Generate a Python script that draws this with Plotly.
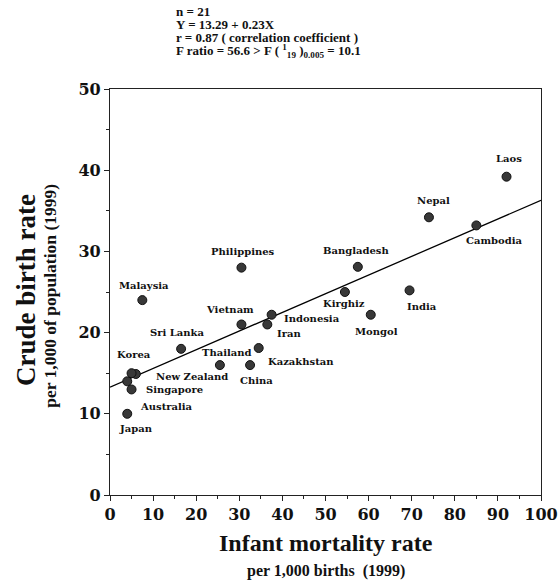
import plotly.graph_objects as go

# Infant mortality (per 1,000 births) vs crude birth rate (per 1,000 pop.), 1999
countries = ["Laos", "Nepal", "Cambodia", "Philippines", "Bangladesh", "Kirghiz",
             "India", "Mongol", "Vietnam", "Indonesia", "Iran", "Kazakhstan",
             "China", "Thailand", "New Zealand", "Sri Lanka", "Malaysia", "Korea",
             "Singapore", "Australia", "Japan"]
infant_mortality = [92, 74, 85, 30.5, 57.5, 54.5,
                    69.5, 60.5, 30.5, 37.5, 36.5, 34.5,
                    32.5, 25.5, 6, 16.5, 7.5, 5,
                    4, 5, 4]
birth_rate = [39.2, 34.2, 33.2, 28, 28.1, 25,
              25.2, 22.2, 21, 22.2, 21, 18.1,
              16, 16, 14.9, 18, 24, 15,
              14, 13, 10]

# regression line Y = a + bX
intercept = 13.29
slope = 0.23

x_ticks = list(range(0, 101, 10))
y_ticks = list(range(0, 51, 10))

# pixel offsets (dx right, dy down) of each label from its point
label_offsets = [(2, -18), (5, -17), (18, 15), (2, -16), (-2, -16), (-1, 11),
                 (12, 16), (6, 17), (-11, -15), (40, 4), (22, 9), (42, 13),
                 (6, 15), (7, -13), (56, 2), (-4, -16), (2, -15), (2, -19),
                 (47, 8), (35, 17), (9, 15)]

SERIF = "Liberation Serif"
WIDE_SERIF = "DejaVu Serif"
INK = "#111111"

fig = go.Figure()

line_x = [0, 100]
line_y = [intercept + slope * v for v in line_x]
fig.add_trace(go.Scatter(x=line_x, y=line_y, mode="lines",
                         line=dict(color="black", width=1.3),
                         hoverinfo="skip", showlegend=False))

fig.add_trace(go.Scatter(x=infant_mortality, y=birth_rate, mode="markers",
                         text=countries,
                         marker=dict(size=9, color="#383838",
                                     line=dict(color="#111111", width=1)),
                         showlegend=False))

annotations = []
for name, xv, yv, (dx, dy) in zip(countries, infant_mortality, birth_rate, label_offsets):
    annotations.append(dict(x=xv, y=yv, xref="x", yref="y", text=f"<b>{name}</b>",
                            showarrow=False, xshift=dx, yshift=-dy,
                            font=dict(family=WIDE_SERIF, size=10, color=INK),
                            xanchor="center", yanchor="middle"))

# statistics block above the plot
stats_lines = ["<b>n = 21</b>",
               "<b>Y = 13.29 + 0.23X</b>",
               "<b>r = 0.87 ( correlation coefficient )</b>",
               "<b>F ratio = 56.6 &gt; F ( <sup>1</sup><sub>19</sub> )<sub>0.005</sub> = 10.1</b>"]
for i, t in enumerate(stats_lines):
    annotations.append(dict(x=0.148, y=1.19 - i * 0.032, xref="paper", yref="paper",
                            text=t, showarrow=False, xanchor="left", yanchor="middle",
                            font=dict(family=SERIF, size=13, color=INK)))

# axis titles with sub-captions
annotations.append(dict(x=0.5, y=-0.118, xref="paper", yref="paper",
                        text="<b>Infant mortality rate</b>", showarrow=False,
                        xanchor="center", yanchor="middle",
                        font=dict(family=SERIF, size=24, color=INK)))
annotations.append(dict(x=0.5, y=-0.188, xref="paper", yref="paper",
                        text="<b>per 1,000 births  (1999)</b>", showarrow=False,
                        xanchor="center", yanchor="middle",
                        font=dict(family=SERIF, size=16, color=INK)))
annotations.append(dict(x=-0.195, y=0.505, xref="paper", yref="paper",
                        text="<b>Crude birth rate</b>", showarrow=False, textangle=-90,
                        xanchor="center", yanchor="middle",
                        font=dict(family=SERIF, size=27, color=INK)))
annotations.append(dict(x=-0.14, y=0.49, xref="paper", yref="paper",
                        text="<b>per 1,000 of population (1999)</b>", showarrow=False,
                        textangle=-90, xanchor="center", yanchor="middle",
                        font=dict(family=SERIF, size=17.5, color=INK)))

axis_common = dict(showgrid=False, zeroline=False, showline=True, linecolor="#222222",
                   linewidth=1.2, mirror=True, ticks="outside", ticklen=5,
                   tickcolor="#222222", tickwidth=1, automargin=False,
                   tickfont=dict(family=WIDE_SERIF, size=16, color=INK),
                   minor=dict(ticks="outside", ticklen=3, dtick=5,
                              tickcolor="#222222", tickwidth=1))

fig.update_layout(
    width=560, height=584,
    margin=dict(l=110, r=19, t=89, b=89, autoexpand=False),
    paper_bgcolor="white", plot_bgcolor="white",
    xaxis=dict(range=[0, 100], tickvals=x_ticks,
               ticktext=[f"<b>{v}</b>" for v in x_ticks], **axis_common),
    yaxis=dict(range=[0, 50], tickvals=y_ticks,
               ticktext=[f"<b>{v}</b>" for v in y_ticks], **axis_common),
    annotations=annotations,
)

fig.write_html("out.html")
